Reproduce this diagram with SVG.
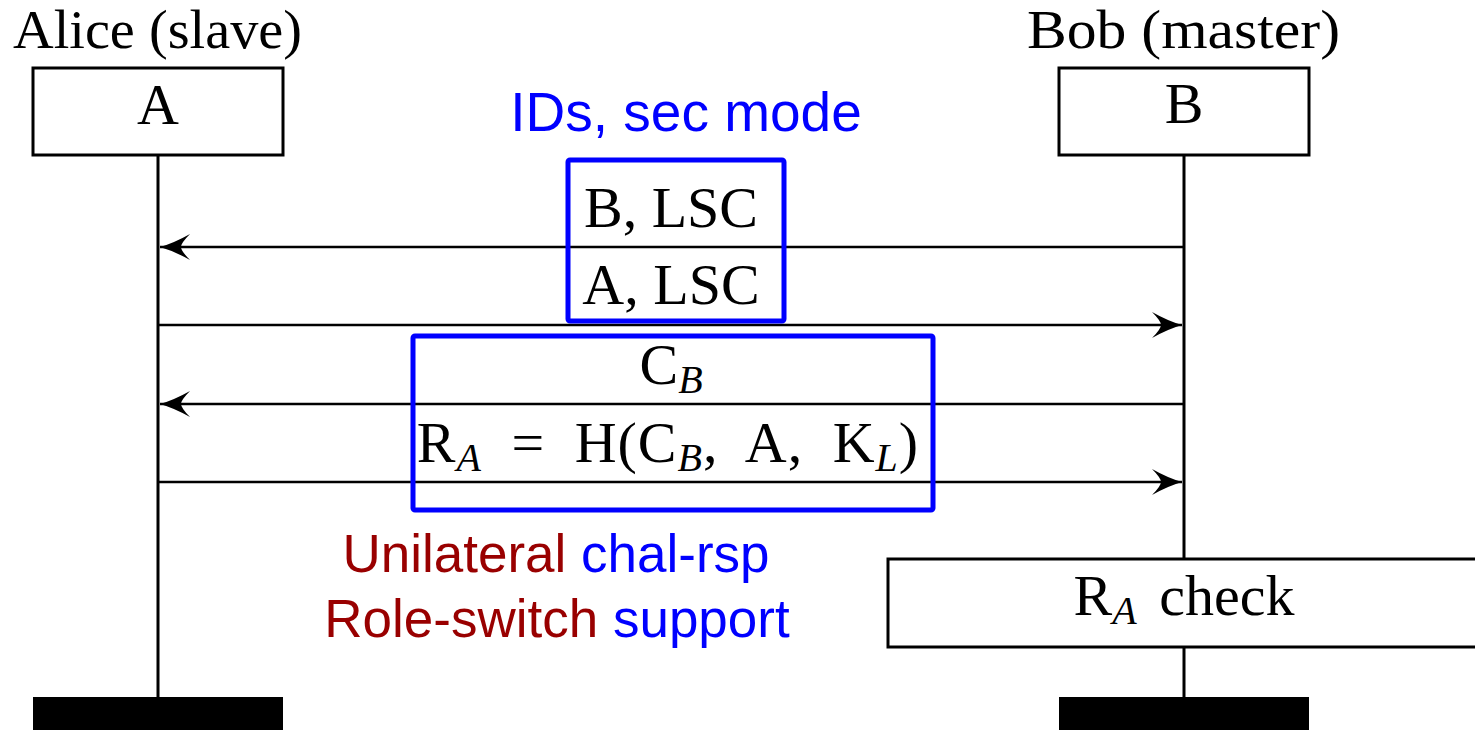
<svg xmlns="http://www.w3.org/2000/svg" width="1475" height="730" viewBox="0 0 1475 730">
<style>
.serif{font-family:"Liberation Serif","Times New Roman",serif;fill:#000;}
.sans{font-family:"Liberation Sans",Arial,sans-serif;}
.box{fill:#fff;stroke:#000;stroke-width:3;}
.life{stroke:#000;stroke-width:3;fill:none;}
.msg{stroke:#000;stroke-width:2.5;fill:none;}
.hl{fill:none;stroke:#0000ff;stroke-width:5;}
.blue{fill:#0000ff;}
.red{fill:#990000;}
.sub{font-style:italic;font-size:40px;}
</style>
<defs>
<marker id="ah" markerUnits="userSpaceOnUse" markerWidth="40" markerHeight="30" viewBox="-32 -15 34 30" refX="0" refY="0" orient="auto">
<path d="M0,0 Q-14,-4 -30,-13 Q-21,-4 -21,0 Q-21,4 -30,13 Q-14,4 0,0 Z" fill="#000"/>
</marker>
</defs>
<rect width="1475" height="730" fill="#fff"/>

<g id="lifelines">
<line class="life" x1="158" y1="155" x2="158" y2="698"/>
<line class="life" x1="1184" y1="155" x2="1184" y2="698"/>
</g>

<g id="alice">
<text class="serif" x="13" y="48" font-size="54" textLength="289" lengthAdjust="spacingAndGlyphs">Alice (slave)</text>
<rect class="box" x="33" y="68" width="250" height="87"/>
<text class="serif" x="158" y="124" font-size="58" text-anchor="middle">A</text>
<rect x="33" y="697" width="250" height="33" fill="#000"/>
</g>

<g id="bob">
<text class="serif" x="1027" y="48" font-size="54" textLength="313" lengthAdjust="spacingAndGlyphs">Bob (master)</text>
<rect class="box" x="1059" y="68" width="250" height="87"/>
<text class="serif" x="1184" y="123" font-size="58" text-anchor="middle">B</text>
<rect x="1059" y="697" width="250" height="33" fill="#000"/>
</g>

<g id="connectors">
<line class="msg" x1="1184" y1="247" x2="160" y2="247" marker-end="url(#ah)"/>
<line class="msg" x1="158" y1="325" x2="1182" y2="325" marker-end="url(#ah)"/>
<line class="msg" x1="1184" y1="404" x2="160" y2="404" marker-end="url(#ah)"/>
<line class="msg" x1="158" y1="482" x2="1182" y2="482" marker-end="url(#ah)"/>
</g>

<g id="labels">
<text class="serif" x="671" y="227" font-size="58" text-anchor="middle">B, LSC</text>
<text class="serif" x="671" y="304" font-size="58" text-anchor="middle">A, LSC</text>
<text class="serif" x="671" y="384" font-size="58" text-anchor="middle">C<tspan class="sub" dy="9">B</tspan></text>
<text class="serif" x="668" y="462" font-size="58" text-anchor="middle" word-spacing="14" letter-spacing="1">R<tspan class="sub" dy="9">A</tspan><tspan dy="-9"> = H(C</tspan><tspan class="sub" dy="9">B</tspan><tspan dy="-9">, A, K</tspan><tspan class="sub" dy="9">L</tspan><tspan dy="-9">)</tspan></text>
</g>

<g id="check">
<rect class="box" x="888" y="559" width="600" height="88"/>
<text class="serif" x="1184" y="615" font-size="58" text-anchor="middle" word-spacing="8">R<tspan class="sub" dy="9">A</tspan><tspan dy="-9"> check</tspan></text>
</g>

<g id="annotations">
<rect class="hl" x="568" y="160" width="216" height="161" rx="2"/>
<rect class="hl" x="413" y="336" width="520" height="174" rx="2"/>
<text class="sans blue" x="686" y="131" font-size="55" text-anchor="middle">IDs, sec mode</text>
<text class="sans" x="556" y="572" font-size="53" text-anchor="middle"><tspan class="red">Unilateral</tspan><tspan class="blue"> chal-rsp</tspan></text>
<text class="sans" x="557" y="637" font-size="53" text-anchor="middle"><tspan class="red">Role-switch</tspan><tspan class="blue"> support</tspan></text>
</g>
</svg>
